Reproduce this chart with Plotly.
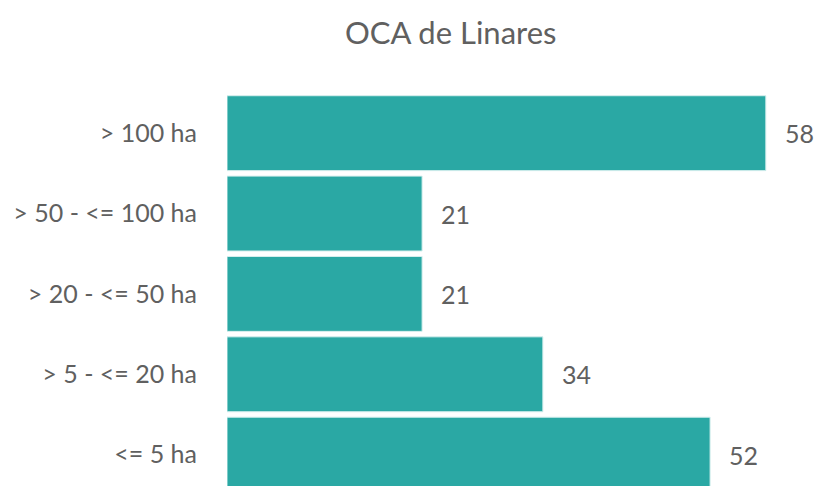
import plotly.graph_objects as go

categories = ["<= 5 ha", "> 5 - <= 20 ha", "> 20 - <= 50 ha", "> 50 - <= 100 ha", "> 100 ha"]
values = [52, 34, 21, 21, 58]
title_text = "OCA de Linares"

bar_color = "#2AA8A4"
text_color = "#606060"
font_family = "Lato, 'Open Sans', sans-serif"

fig = go.Figure()
fig.add_trace(go.Bar(
    y=categories,
    x=values,
    orientation="h",
    marker=dict(color=bar_color, line=dict(color="#d6efee", width=1)),
    hoverinfo="skip",
))

for c, v in zip(categories, values):
    fig.add_annotation(
        x=v, y=c, text=str(v), showarrow=False,
        xanchor="left", yanchor="middle", xshift=17,
        font=dict(family=font_family, size=25, color=text_color),
    )

fig.update_layout(
    width=818, height=486,
    margin=dict(l=227, r=15, t=93, b=0),
    paper_bgcolor="white", plot_bgcolor="white",
    bargap=0.068,
    showlegend=False,
    title=dict(text=title_text, x=0.551, xanchor="center", y=0.932, yanchor="middle",
               font=dict(family=font_family, size=31, color=text_color)),
    font=dict(family=font_family, size=25, color=text_color),
)
fig.update_xaxes(range=[0, 62], visible=False, showgrid=False, zeroline=False)
fig.update_yaxes(range=[-0.39, 4.5], showgrid=False, zeroline=False, showline=False,
                 ticks="", ticklabelstandoff=29,
                 tickfont=dict(family=font_family, size=25, color=text_color))

fig.write_html("out.html", config={"displayModeBar": False},
               post_script="document.body.style.margin='0';")
